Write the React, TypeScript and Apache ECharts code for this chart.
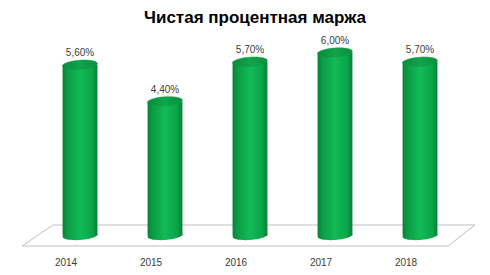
import React, { useEffect, useRef } from "react";
import * as echarts from "echarts";

const categories = ["2014", "2015", "2016", "2017", "2018"];
const values = [5.6, 4.4, 5.7, 6.0, 5.7];
const valueLabels = ["5,60%", "4,40%", "5,70%", "6,00%", "5,70%"];

export default function App() {
  const ref = useRef<HTMLDivElement>(null);
  useEffect(() => {
    if (!ref.current) return;
    const chart = echarts.init(ref.current, null, { renderer: "svg" });
    const bodyGrad = () =>
      new echarts.graphic.LinearGradient(0, 0, 1, 0, [
        { offset: 0, color: "#0a7e37" },
        { offset: 0.12, color: "#0a9a44" },
        { offset: 0.5, color: "#12bb58" },
        { offset: 0.85, color: "#0aa447" },
        { offset: 1, color: "#07803a" },
      ]);
    const topGrad = () =>
      new echarts.graphic.LinearGradient(0, 0, 1, 0, [
        { offset: 0, color: "#0a8a3d" },
        { offset: 0.5, color: "#10a44c" },
        { offset: 1, color: "#0a8f40" },
      ]);
    const option: any = {
      animation: false,
      backgroundColor: "#ffffff",
      title: {
        text: "Чистая процентная маржа",
        left: 139,
        top: 4,
        textStyle: {
          fontFamily: "Liberation Sans",
          fontWeight: "bold",
          fontSize: 17,
          color: "#000000",
        },
      },
      grid: { left: 37.5, right: 27.5, top: 52.5, bottom: 39.5 },
      xAxis: {
        type: "category",
        data: categories,
        axisLine: { show: false },
        axisTick: { show: false },
        axisLabel: {
          margin: 22,
          padding: [0, 28, 0, 0],
          fontFamily: "Liberation Sans",
          fontSize: 10,
          color: "#404040",
        },
      },
      yAxis: {
        type: "value",
        min: 0,
        max: 6,
        show: false,
        splitLine: { show: false },
      },
      graphic: [
        {
          type: "polygon",
          z: 0,
          silent: true,
          shape: {
            points: [
              [53, 225],
              [475, 225],
              [448, 246],
              [22, 246],
            ],
          },
          style: { fill: "#ffffff", stroke: "#bfbfbf", lineWidth: 1 },
        },
      ],
      series: [
        {
          type: "custom",
          z: 5,
          data: values.map((v, i) => [i, v]),
          renderItem: (params: any, api: any) => {
            const idx = api.value(0);
            const val = api.value(1);
            const base = api.coord([idx, 0]);
            const top = api.coord([idx, val]);
            const band = api.size([1, 0])[0];
            const rx = (band * 0.41) / 2;
            const ry = 4.5;
            const cx = base[0];
            const rot = 0.07;
            return {
              type: "group",
              children: [
                {
                  type: "ellipse",
                  x: cx,
                  y: base[1],
                  rotation: rot,
                  shape: { cx: 0, cy: 0, rx, ry },
                  style: { fill: bodyGrad() },
                },
                {
                  type: "rect",
                  shape: { x: cx - rx, y: top[1], width: rx * 2, height: base[1] - top[1] },
                  style: { fill: bodyGrad() },
                },
                {
                  type: "ellipse",
                  x: cx,
                  y: top[1],
                  rotation: rot,
                  shape: { cx: 0, cy: 0, rx, ry },
                  style: { fill: topGrad(), stroke: "#0b9a45", lineWidth: 0.5 },
                },
                {
                  type: "text",
                  x: cx,
                  y: top[1] - 12,
                  style: {
                    text: valueLabels[idx],
                    fontFamily: "Liberation Sans",
                    fontSize: 10,
                    fill: "#404040",
                    align: "center",
                    verticalAlign: "middle",
                  },
                },
              ],
            };
          },
        },
      ],
    };
    chart.setOption(option);
    return () => chart.dispose();
  }, []);
  return <div ref={ref} style={{ width: 490, height: 275, position: "absolute", left: 0, top: 0 }} />;
}
